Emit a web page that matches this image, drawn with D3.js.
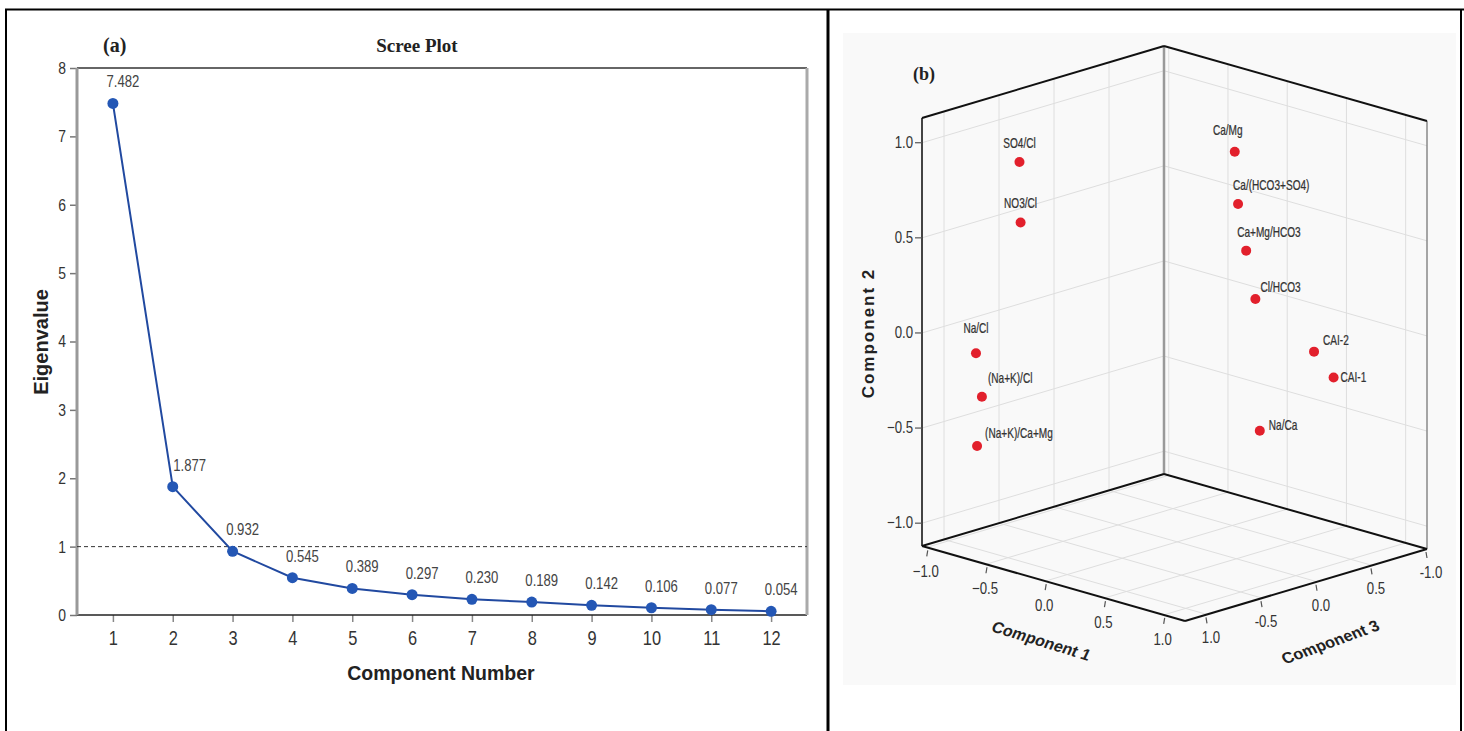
<!DOCTYPE html>
<html>
<head>
<meta charset="utf-8">
<script src="https://cdn.jsdelivr.net/npm/d3@7"></script>
<style>
  body { margin: 0; background: #fff; }
  svg { display: block; }
</style>
</head>
<body>
<svg id="fig" width="1464" height="731"></svg>
<script>
// ---- (a) scree plot data ----
const components = [1, 2, 3, 4, 5, 6, 7, 8, 9, 10, 11, 12];
const eigenvalues = [7.482, 1.877, 0.932, 0.545, 0.389, 0.297, 0.230, 0.189, 0.142, 0.106, 0.077, 0.054];
const eigenTicks = [0, 1, 2, 3, 4, 5, 6, 7, 8];
const kaiserValue = 1;

const ratioNames = ["SO4/Cl", "NO3/Cl", "Na/Cl", "(Na+K)/Cl", "(Na+K)/Ca+Mg",
  "Ca/Mg", "Ca/(HCO3+SO4)", "Ca+Mg/HCO3", "Cl/HCO3", "CAI-2", "CAI-1", "Na/Ca"];
const comp1 = [-0.70, -0.70, -0.90, -0.85, -0.90, 0.30, 0.30, 0.35, 0.40, 0.70, 0.80, 0.40];
const comp2 = [0.87, 0.55, -0.14, -0.36, -0.63, 0.95, 0.67, 0.43, 0.18, -0.08, -0.21, -0.52];
const comp3 = [-0.68, -0.67, -0.86, -0.86, -0.85, 0.20, 0.23, 0.25, 0.28, 0.49, 0.56, 0.32];
const cubeTicks = [-1, -0.5, 0, 0.5, 1];
const comp3Ticks = [1, 0.5, 0, -0.5, -1];
const comp3TickLabels = ["-1.0", "0.5", "0.0", "-0.5", "1.0"]; // as printed in the figure

// label offsets from each point [dx, dy, anchor]
const labelPlace = [[0, -14, "middle"], [0, -14, "middle"], [0, -20, "middle"], [6, -14, "start"],
  [8, -8, "start"], [-7, -17, "middle"], [-5, -14, "start"], [-9, -14, "start"],
  [5, -7, "start"], [9, -7, "start"], [7, 5, "start"], [9, -1, "start"]];

const svg = d3.select("#fig");
const SANS = "'Liberation Sans', Arial, sans-serif";
const SERIF = "'Liberation Serif', 'Times New Roman', serif";

// squeeze text horizontally (Arial Narrow look)
function narrow(sel, k) {
  sel.each(function () {
    const t = d3.select(this);
    const x = +t.attr("x") || 0, y = +t.attr("y") || 0;
    t.attr("x", 0).attr("y", 0)
      .attr("transform", `translate(${x},${y}) scale(${k},1)`);
  });
}

// ---- outer table frame ----
const frame = svg.append("g").attr("stroke", "#000").attr("fill", "none");
frame.append("line").attr("x1", 5).attr("x2", 1464).attr("y1", 9.5).attr("y2", 9.5).attr("stroke-width", 2);
frame.append("line").attr("x1", 6).attr("x2", 6).attr("y1", 9).attr("y2", 731).attr("stroke-width", 2);
frame.append("line").attr("x1", 828).attr("x2", 828).attr("y1", 9).attr("y2", 731).attr("stroke-width", 3);
frame.append("line").attr("x1", 1461).attr("x2", 1461).attr("y1", 9).attr("y2", 731).attr("stroke-width", 2);

// ================= (a) Scree plot =================
const pa = { left: 77, right: 807, top: 68, bottom: 615 };
const x = d3.scaleLinear().domain([0.4, 12.6]).range([pa.left, pa.right]);
const y = d3.scaleLinear().domain([0, 8]).range([pa.bottom, pa.top]);

const gA = svg.append("g");

const yAxis = gA.append("g")
  .attr("transform", `translate(${pa.left},0)`)
  .call(d3.axisLeft(y).tickValues(eigenTicks).tickSize(7).tickPadding(4).tickFormat(d3.format("d")));
yAxis.select(".domain").remove();
yAxis.selectAll(".tick line").attr("stroke", "#777").attr("stroke-width", 1.5);
yAxis.selectAll(".tick text").attr("font-family", SANS).attr("font-size", 17).attr("fill", "#333").call(narrow, 0.82);

const xAxis = gA.append("g")
  .attr("transform", `translate(0,${pa.bottom})`)
  .call(d3.axisBottom(x).tickValues(components).tickSize(7).tickPadding(9));
xAxis.select(".domain").remove();
xAxis.selectAll(".tick line").attr("stroke", "#888").attr("stroke-width", 1.5);
xAxis.selectAll(".tick text").attr("font-family", SANS).attr("font-size", 20).attr("fill", "#333").call(narrow, 0.82);

// plot box
gA.append("line").attr("x1", pa.left).attr("x2", pa.right).attr("y1", pa.top).attr("y2", pa.top)
  .attr("stroke", "#333").attr("stroke-width", 1.5);
gA.append("line").attr("x1", pa.left).attr("x2", pa.right).attr("y1", pa.bottom).attr("y2", pa.bottom)
  .attr("stroke", "#222").attr("stroke-width", 1.5);
gA.append("line").attr("x1", pa.left).attr("x2", pa.left).attr("y1", pa.top).attr("y2", pa.bottom)
  .attr("stroke", "#999").attr("stroke-width", 3);
gA.append("line").attr("x1", pa.right).attr("x2", pa.right).attr("y1", pa.top).attr("y2", pa.bottom)
  .attr("stroke", "#aaa").attr("stroke-width", 3);

// eigenvalue = 1 reference
gA.append("line").attr("x1", pa.left).attr("x2", pa.right)
  .attr("y1", y(kaiserValue)).attr("y2", y(kaiserValue))
  .attr("stroke", "#333").attr("stroke-width", 1).attr("stroke-dasharray", "4,3");

const scree = components.map((c, i) => ({ c, v: eigenvalues[i] }));
gA.append("path").datum(scree)
  .attr("fill", "none").attr("stroke", "#2149a0").attr("stroke-width", 2)
  .attr("d", d3.line().x(d => x(d.c)).y(d => y(d.v)));

gA.selectAll("circle.pt").data(scree).enter().append("circle")
  .attr("class", "pt")
  .attr("cx", d => x(d.c)).attr("cy", d => y(d.v)).attr("r", 5.5)
  .attr("fill", "#2457b5");

gA.selectAll("text.val").data(scree).enter().append("text")
  .attr("class", "val")
  .attr("x", d => x(d.c) + (d.c === 2 ? 17 : 10)).attr("y", d => y(d.v) - 16)
  .attr("text-anchor", "middle")
  .attr("font-family", SANS).attr("font-size", 16).attr("fill", "#444")
  .text(d => d.v.toFixed(3))
  .call(narrow, 0.82);

// titles
gA.append("text").attr("x", 103).attr("y", 52)
  .attr("font-family", SERIF).attr("font-weight", "bold").attr("font-size", 20).attr("fill", "#222")
  .text("(a)");
gA.append("text").attr("x", 417).attr("y", 52).attr("text-anchor", "middle")
  .attr("font-family", SERIF).attr("font-weight", "bold").attr("font-size", 19).attr("fill", "#222")
  .text("Scree Plot");
gA.append("text").attr("transform", "translate(48,342) rotate(-90)").attr("text-anchor", "middle")
  .attr("font-family", SANS).attr("font-weight", "bold").attr("font-size", 20).attr("fill", "#222")
  .text("Eigenvalue");
gA.append("text").attr("x", 441).attr("y", 680).attr("text-anchor", "middle")
  .attr("font-family", SANS).attr("font-weight", "bold").attr("font-size", 19.5).attr("fill", "#222")
  .text("Component Number");

// ================= (b) 3D component plot =================
const gB = svg.append("g");
gB.append("rect").attr("x", 843).attr("y", 33).attr("width", 613).attr("height", 652).attr("fill", "#f9f9f9");

const s1 = d3.scaleLinear().domain([-1.04, 1.18]).range([0, 1]);
const s2 = d3.scaleLinear().domain([-1.12, 1.13]).range([0, 1]);
const s3 = d3.scaleLinear().domain([-1.2, 1.0]).range([0, 1]);
const origin = [922, 546], e1 = [263, 75], e3 = [242, -72], hgt = 428;
function proj(a, b, c) {
  const u = s1(a), v = s2(b), w = s3(c);
  return [origin[0] + e1[0] * u + e3[0] * w, origin[1] + e1[1] * u + e3[1] * w - hgt * v];
}
const [a0, a1] = s1.domain(), [b0, b1] = s2.domain(), [c0, c1] = s3.domain();

function seg(g, p, q, color, w) {
  g.append("line").attr("x1", p[0]).attr("y1", p[1]).attr("x2", q[0]).attr("y2", q[1])
    .attr("stroke", color).attr("stroke-width", w);
}

// wall + floor grids
const grid = gB.append("g");
const gridC = "#dedede";
cubeTicks.forEach(v => {
  seg(grid, proj(a0, v, c0), proj(a0, v, c1), gridC, 1);   // left wall horizontals
  seg(grid, proj(a0, v, c1), proj(a1, v, c1), gridC, 1);   // right wall horizontals
});
cubeTicks.forEach(w => {
  seg(grid, proj(a0, b0, w), proj(a0, b1, w), gridC, 1);   // left wall verticals
  seg(grid, proj(a0, b0, w), proj(a1, b0, w), gridC, 1);   // floor
});
cubeTicks.forEach(u => {
  seg(grid, proj(u, b0, c1), proj(u, b1, c1), gridC, 1);   // right wall verticals
  seg(grid, proj(u, b0, c0), proj(u, b0, c1), gridC, 1);   // floor
});

// box edges
const box = gB.append("g");
seg(box, proj(a0, b0, c1), proj(a0, b1, c1), "#999", 2.5);
seg(box, proj(a0, b0, c0), proj(a0, b1, c0), "#444", 2);
seg(box, proj(a1, b0, c1), proj(a1, b1, c1), "#888", 1.5);
seg(box, proj(a0, b1, c0), proj(a0, b1, c1), "#111", 2);
seg(box, proj(a0, b1, c1), proj(a1, b1, c1), "#111", 2);
seg(box, proj(a0, b0, c0), proj(a0, b0, c1), "#111", 2);
seg(box, proj(a0, b0, c1), proj(a1, b0, c1), "#111", 2);
seg(box, proj(a0, b0, c0), proj(a1, b0, c0), "#111", 2);
seg(box, proj(a1, b0, c0), proj(a1, b0, c1), "#111", 2);

// vertical axis (component 2)
const fmt = d3.format(".1f");
cubeTicks.forEach(v => {
  const p = proj(a0, v, c0);
  seg(gB, [p[0] - 7, p[1]], p, "#555", 1.2);
  gB.append("text").attr("x", p[0] - 9).attr("y", p[1]).attr("dy", "0.32em")
    .attr("text-anchor", "end").attr("font-family", SANS).attr("font-size", 16.5).attr("fill", "#333")
    .text(fmt(v)).call(narrow, 0.8);
});
// floor axis component 1
cubeTicks.forEach(u => {
  const p = proj(u, b0, c0);
  seg(gB, [p[0] + 1, p[1] + 3], [p[0], p[1] + 9], "#555", 1.2);
  gB.append("text").attr("x", p[0] - 1).attr("y", p[1] + 30)
    .attr("text-anchor", "middle").attr("font-family", SANS).attr("font-size", 16.5).attr("fill", "#333")
    .text(fmt(u)).call(narrow, 0.8);
});
// floor axis component 3
comp3Ticks.forEach((w, i) => {
  const p = proj(a1, b0, w);
  seg(gB, [p[0] - 1, p[1] + 3], [p[0], p[1] + 9], "#555", 1.2);
  gB.append("text").attr("x", p[0] + 4).attr("y", p[1] + 29)
    .attr("text-anchor", "middle").attr("font-family", SANS).attr("font-size", 16.5).attr("fill", "#333")
    .text(comp3TickLabels[i]).call(narrow, 0.8);
});

// axis titles
gB.append("text").attr("transform", "translate(874,333) rotate(-90)").attr("text-anchor", "middle")
  .attr("font-family", SANS).attr("font-weight", "bold").attr("font-size", 17)
  .attr("letter-spacing", 2).attr("fill", "#222").text("Component 2");
gB.append("text").attr("transform", "translate(1039,646) rotate(17) skewX(-8)").attr("text-anchor", "middle")
  .attr("font-family", SANS).attr("font-weight", "bold").attr("font-size", 16).attr("fill", "#222")
  .text("Component 1");
gB.append("text").attr("transform", "translate(1333,647) rotate(-20) skewX(8)").attr("text-anchor", "middle")
  .attr("font-family", SANS).attr("font-weight", "bold").attr("font-size", 16).attr("fill", "#222")
  .text("Component 3");
gB.append("text").attr("x", 913).attr("y", 80)
  .attr("font-family", SERIF).attr("font-weight", "bold").attr("font-size", 18).attr("fill", "#222")
  .text("(b)");

// points + labels
const loadings = ratioNames.map((n, i) => ({ n, p: proj(comp1[i], comp2[i], comp3[i]), lp: labelPlace[i] }));
gB.selectAll("circle.ld").data(loadings).enter().append("circle")
  .attr("class", "ld").attr("cx", d => d.p[0]).attr("cy", d => d.p[1]).attr("r", 5)
  .attr("fill", "#e2202c");
gB.selectAll("text.ld").data(loadings).enter().append("text")
  .attr("class", "ld")
  .attr("x", d => d.p[0] + d.lp[0]).attr("y", d => d.p[1] + d.lp[1])
  .attr("text-anchor", d => d.lp[2])
  .attr("font-family", SANS).attr("font-size", 14).attr("fill", "#333")
  .attr("stroke", "#333").attr("stroke-width", 0.25)
  .text(d => d.n).call(narrow, 0.72);
</script>
</body>
</html>
